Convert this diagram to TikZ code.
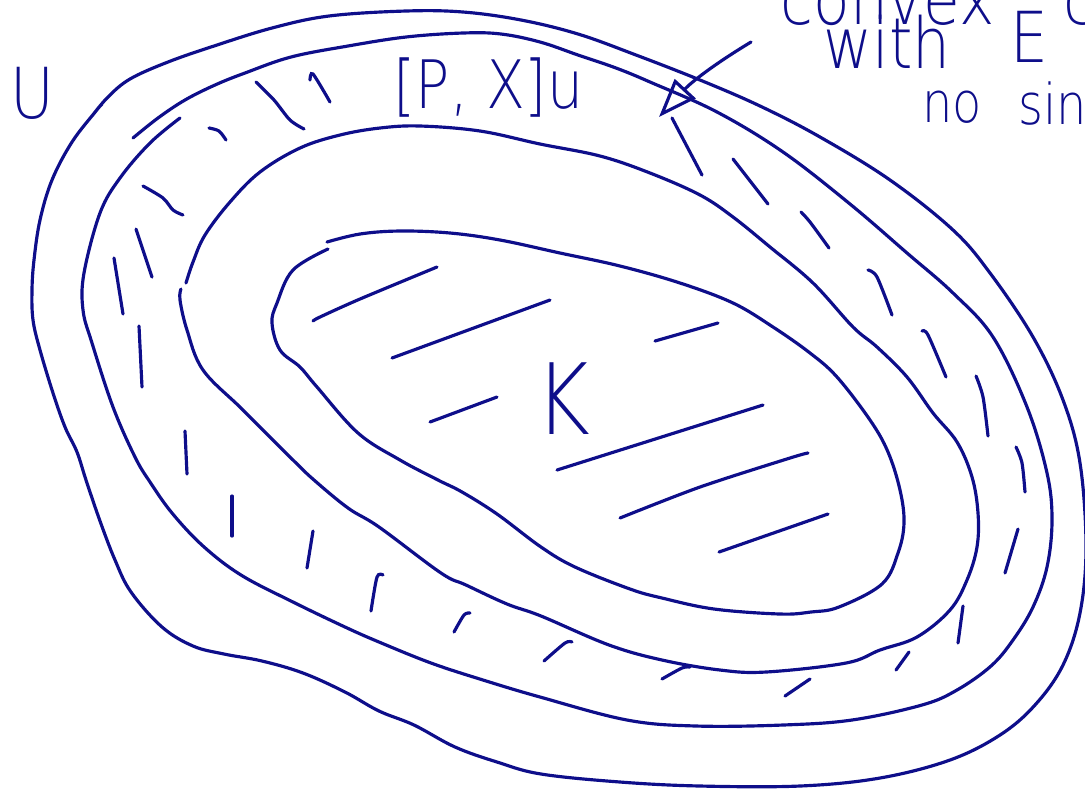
\documentclass[tikz,border=0pt]{standalone}
\usepackage{fontspec}
\newfontfamily\scrawlfont{DejaVu Sans ExtraLight}
\usetikzlibrary{arrows.meta}
\definecolor{ink}{RGB}{14,14,138}

\begin{document}
\begin{tikzpicture}[x=0.01cm,y=-0.01cm,
    ring/.style={ink,line width=0.9pt,line cap=round,line join=round},
    hatch/.style={ink,line width=0.9pt,line cap=round},
    scrawl/.style={text=ink,inner sep=0pt,anchor=base west,
      font=\scrawlfont\fontsize{#1}{#1}\selectfont,xscale=0.85,transform shape},
    scrawl/.default=20]
    % Rammen (billedets format)
    \clip (0,0) rectangle (1085,790);
    % Ydre omraade U
    \draw[ring] plot[smooth,tension=0.6] coordinates {(92,116) (108,97) (130,79) (168,62) (214,46) (272,28) (329,16) (406,11) (463,12) (521,20) (578,34) (636,55) (700,80) (760,106) (820,137) (890,180) (953,230) (990,273) (1033,337) (1063,400) (1080,463) (1086,547) (1080,613) (1063,665) (1035,705) (1000,735) (950,760) (880,778) (800,786) (700,786) (620,782) (541,774) (497,762) (455,747) (414,725) (379,711) (345,692) (303,673) (262,661) (224,654) (193,646) (162,627) (131,592) (115,560) (100,521) (86,480) (77,452) (65,427) (53,393) (40,350) (33,320) (32,290) (34,260) (40,220) (52,180) (72,142) (96,111) (102,104)};
    % Ringen [P,X]_U, ydre og indre rand
    \draw[ring] plot[smooth,tension=0.6] coordinates {(133,138) (158,118) (185,100) (215,85) (245,73) (291,57) (348,46) (406,37) (463,33) (501,34) (540,42) (578,55) (616,68) (650,82) (717,112) (783,152) (850,204) (907,253) (953,293) (993,337) (1027,407) (1047,473) (1052,520) (1047,567) (1033,607) (1013,640) (991,666) (957,690) (922,705) (852,720) (783,725) (696,726) (627,720) (540,697) (483,680) (431,663) (379,642) (345,627) (293,602) (241,575) (203,546) (172,513) (150,482) (135,457) (113,407) (92,343) (83,310) (84,273) (100,213) (120,178) (150,143) (180,118)};
    \draw[ring] plot[smooth,tension=0.6] coordinates {(186,283) (193,262) (205,235) (230,202) (260,172) (300,148) (340,135) (380,128) (420,126) (480,131) (540,144) (600,156) (650,173) (700,195) (733,217) (770,247) (813,283) (853,327) (877,347) (907,377) (933,413) (957,442) (972,477) (978,513) (977,547) (967,580) (950,610) (917,637) (880,650) (846,663) (766,672) (720,670) (662,660) (609,645) (541,616) (507,604) (466,585) (441,573) (379,527) (348,508) (314,480) (293,460) (243,410) (203,370) (187,330) (180,300) (181,289)};
    % Kompakt K
    \draw[ring] plot[smooth,tension=0.6] coordinates {(327,242) (360,234) (400,231) (450,233) (500,240) (560,253) (620,266) (680,283) (733,303) (773,327) (810,353) (837,377) (870,420) (888,452) (900,490) (904,523) (898,553) (882,584) (839,607) (811,612) (780,614) (714,609) (662,598) (630,589) (575,567) (541,547) (497,514) (462,492) (438,480) (400,460) (358,433) (317,387) (300,367) (280,350) (272,323) (277,303) (293,270) (328,249)};
    % Skravering i ringen
    \draw[hatch] plot[smooth] coordinates {(143,186) (163,198) (173,210) (183,215)};
    \draw[hatch] (136,229) -- (152,277);
    \draw[hatch] (114,258) -- (123,314);
    \draw[hatch] (139,326) -- (142,387);
    \draw[hatch] (185,431) -- (187,474);
    \draw[hatch] (232,496) -- (232,536);
    \draw[hatch] (313,531) -- (307,568);
    \draw[hatch] plot[smooth] coordinates {(383,575) (377,577) (371,611)};
    \draw[hatch] plot[smooth] coordinates {(470,613) (464,615) (454,632)};
    \draw[hatch] plot[smooth] coordinates {(572,642) (565,643) (544,661)};
    \draw[hatch] plot[smooth] coordinates {(690,667) (682,668) (662,679)};
    \draw[hatch] (810,679) -- (785,696);
    \draw[hatch] (909,652) -- (896,670);
    \draw[hatch] (963,606) -- (958,643);
    \draw[hatch] (1018,529) -- (1005,573);
    \draw[hatch] plot[smooth] coordinates {(1016,447) (1022,463) (1025,492)};
    \draw[hatch] plot[smooth] coordinates {(976,376) (983,397) (988,436)};
    \draw[hatch] plot[smooth] coordinates {(922,331) (928,335) (946,377)};
    \draw[hatch] plot[smooth] coordinates {(868,270) (877,277) (892,315)};
    \draw[hatch] plot[smooth] coordinates {(801,212) (810,222) (829,248)};
    \draw[hatch] (733,159) -- (768,204);
    \draw[hatch] (672,118) -- (702,175);
    \draw[hatch] plot[smooth] coordinates {(209,128) (219,131) (226,140)};
    \draw[hatch] plot[smooth] coordinates {(256,82) (274,100) (290,120) (304,129)};
    \draw[hatch] plot[smooth] coordinates {(310,80) (313,74) (330,102)};
    % Skravering i K
    \draw[hatch] plot[smooth] coordinates {(313,321) (320,317) (360,299) (437,267)};
    \draw[hatch] (392,358) -- (550,300);
    \draw[hatch] (655,341) -- (718,323);
    \draw[hatch] (430,422) -- (497,397);
    \draw[hatch] (557,470) -- (763,405);
    \draw[hatch] plot[smooth] coordinates {(620,518) (700,487) (790,458) (808,453)};
    \draw[hatch] (719,552) -- (828,514);
    % Tekster
    \node[scrawl=20] (ulabel) at (10,118) {U};
    \node[scrawl=19] (pxlabel) at (393,108) {[P, X]u};
    \node[scrawl=28] (klabel) at (535,434) {K};
    \node[scrawl=20] (note1) at (780,24) {convex};
    \node[scrawl=20] (note1c) at (1063,24) {c};
    \node[scrawl=20] (note2) at (823,68) {with};
    \node[scrawl=20] (note2e) at (1010,62) {E};
    \node[scrawl=16] (note3) at (922,122) {no};
    \node[scrawl=16] (note3s) at (1018,124) {sin};
    % Pil fra teksten ind mod ringen
    \coordinate (tail) at (751,42);
    \coordinate (tip) at (659,117);
    \draw[ring,-{Triangle[open,length=11pt,width=8pt]}] (tail) to[bend right=8] (tip);
\end{tikzpicture}
\end{document}
